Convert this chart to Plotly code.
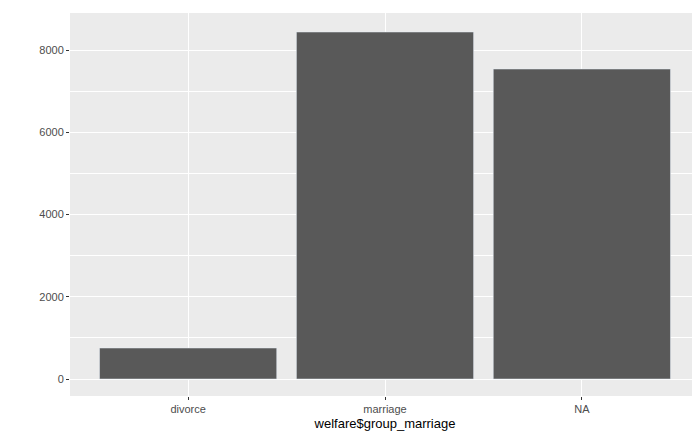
import plotly.graph_objects as go

# Counts per marriage group
groups = ["divorce", "marriage", "NA"]
counts = [754, 8438, 7538]

fig = go.Figure(go.Bar(x=groups, y=counts, marker_color="#595959", width=0.9))

fig.update_layout(
    width=700, height=432,
    paper_bgcolor="white", plot_bgcolor="#EBEBEB",
    margin=dict(l=62, r=8, t=5, b=44),
    font=dict(family="Liberation Sans, Arial", size=11, color="#4D4D4D"),
    showlegend=False, bargap=0.1,
)
fig.update_xaxes(
    range=[-0.6, 2.6], showgrid=True, gridcolor="white", gridwidth=1.2,
    ticks="outside", ticklen=3, tickcolor="#333333", zeroline=False,
    title=dict(text="welfare$group_marriage", font=dict(size=13, color="black"), standoff=4),
)
fig.update_yaxes(
    range=[-413, 8900], tickvals=[0, 2000, 4000, 6000, 8000],
    showgrid=True, gridcolor="white", gridwidth=1.2,
    minor=dict(tickvals=[1000, 3000, 5000, 7000], showgrid=True, gridcolor="white", gridwidth=0.6),
    ticks="outside", ticklen=3, tickcolor="#333333", zeroline=False,
)

fig.write_html("out.html")
